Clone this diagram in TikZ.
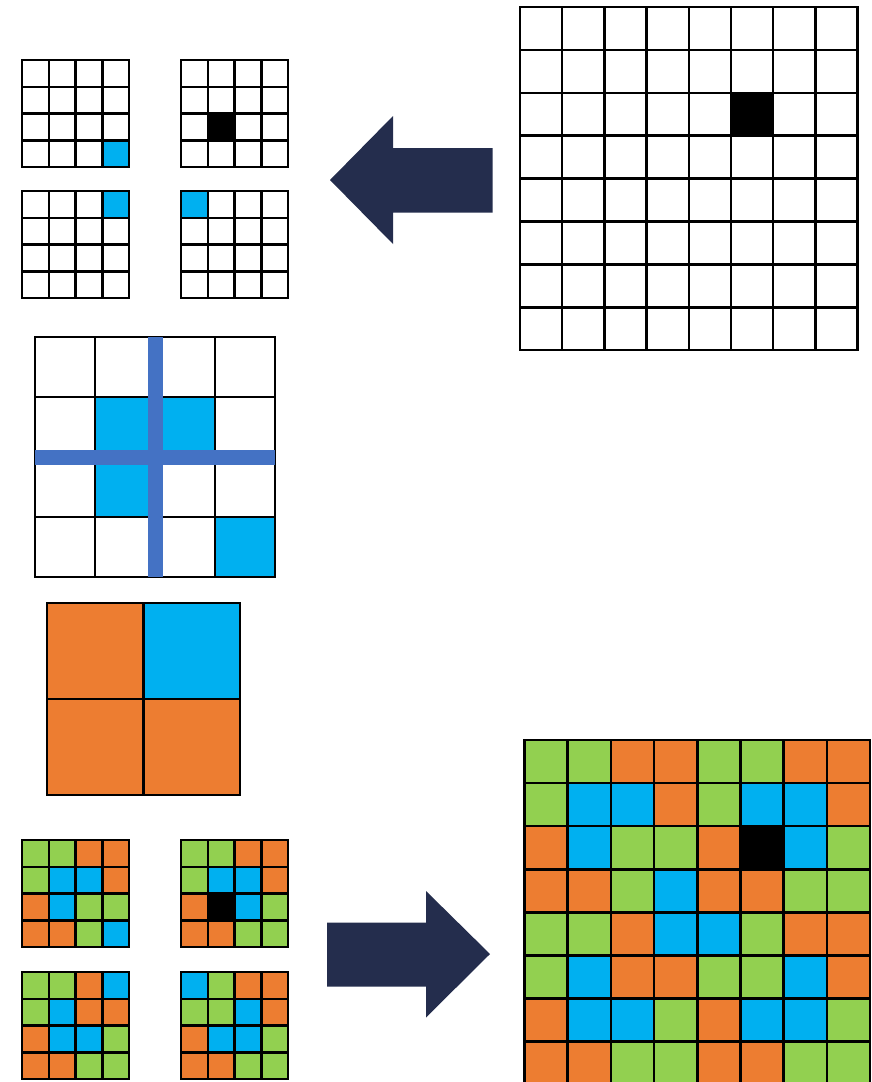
\documentclass[tikz,border=0pt]{standalone}
\usepackage{tikz}

\definecolor{cw}{HTML}{FFFFFF}
\definecolor{cg}{HTML}{92D050}
\definecolor{co}{HTML}{ED7D31}
\definecolor{cb}{HTML}{00B0F0}
\definecolor{ck}{HTML}{000000}
\definecolor{barblue}{HTML}{4472C4}
\definecolor{navy}{HTML}{242D4D}

% #1,#2 top left corner, #3,#4 cell width and height, #5 rows of cell colours
\newcommand{\cellgrid}[5]{%
  \foreach \row [count=\r from 0] in {#5} {
    \foreach \c [count=\k from 0] in \row {
      \draw[cell, fill=\c] ({#1+\k*#3}, {#2+\r*#4}) rectangle ++(#3,#4);
    }
  }
}

\begin{document}
\begin{tikzpicture}[
        x=1pt, y=-1pt,
        cell/.style={draw=black, line width=2.5pt},
        bar/.style={draw=barblue, line width=15pt},
        blockarrow/.style={fill=navy, draw=none}
    ]
    \useasboundingbox (0,0) rectangle (872,1082);

    % input image
    \cellgrid{520}{7}{42.2}{42.9}{{cw,cw,cw,cw,cw,cw,cw,cw},{cw,cw,cw,cw,cw,cw,cw,cw},{cw,cw,cw,cw,cw,ck,cw,cw},{cw,cw,cw,cw,cw,cw,cw,cw},{cw,cw,cw,cw,cw,cw,cw,cw},{cw,cw,cw,cw,cw,cw,cw,cw},{cw,cw,cw,cw,cw,cw,cw,cw},{cw,cw,cw,cw,cw,cw,cw,cw}}

    \fill[blockarrow] (492.5,148) -- (393,148) -- (393,116) -- (330,180) -- (393,244) -- (393,212.5) -- (492.5,212.5) -- cycle;

    % four sub-blocks
    \cellgrid{22}{60}{26.75}{26.75}{{cw,cw,cw,cw},{cw,cw,cw,cw},{cw,cw,cw,cw},{cw,cw,cw,cb}}
    \cellgrid{181}{60}{26.75}{26.75}{{cw,cw,cw,cw},{cw,cw,cw,cw},{cw,ck,cw,cw},{cw,cw,cw,cw}}
    \cellgrid{22}{191}{26.75}{26.75}{{cw,cw,cw,cb},{cw,cw,cw,cw},{cw,cw,cw,cw},{cw,cw,cw,cw}}
    \cellgrid{181}{191}{26.75}{26.75}{{cb,cw,cw,cw},{cw,cw,cw,cw},{cw,cw,cw,cw},{cw,cw,cw,cw}}

    % merged block with cross
    \cellgrid{35}{337}{60}{60}{{cw,cw,cw,cw},{cw,cb,cb,cw},{cw,cb,cw,cw},{cw,cw,cw,cb}}
    \draw[bar] (35,457) -- (275,457);
    \draw[bar] (155,337) -- (155,577);

    % quadrant labels
    \cellgrid{47}{603}{96.5}{96}{{co,cb},{co,co}}

    % coloured sub-blocks
    \cellgrid{22}{840}{26.75}{26.75}{{cg,cg,co,co},{cg,cb,cb,co},{co,cb,cg,cg},{co,co,cg,cb}}
    \cellgrid{181}{840}{26.75}{26.75}{{cg,cg,co,co},{cg,cb,cb,co},{co,ck,cb,cg},{co,co,cg,cg}}
    \cellgrid{22}{972}{26.75}{26.75}{{cg,cg,co,cb},{cg,cb,co,co},{co,cb,cb,cg},{co,co,cg,cg}}
    \cellgrid{181}{972}{26.75}{26.75}{{cb,cg,co,co},{cg,cg,cb,co},{co,cb,cb,cg},{co,co,cg,cg}}

    \fill[blockarrow] (327,922.5) -- (426,922.5) -- (426,891) -- (490,954) -- (426,1017.5) -- (426,986.5) -- (327,986.5) -- cycle;

    % output image
    \cellgrid{524.5}{740}{43.2}{43.1}{{cg,cg,co,co,cg,cg,co,co},{cg,cb,cb,co,cg,cb,cb,co},{co,cb,cg,cg,co,ck,cb,cg},{co,co,cg,cb,co,co,cg,cg},{cg,cg,co,cb,cb,cg,co,co},{cg,cb,co,co,cg,cg,cb,co},{co,cb,cb,cg,co,cb,cb,cg},{co,co,cg,cg,co,co,cg,cg}}
\end{tikzpicture}
\end{document}
